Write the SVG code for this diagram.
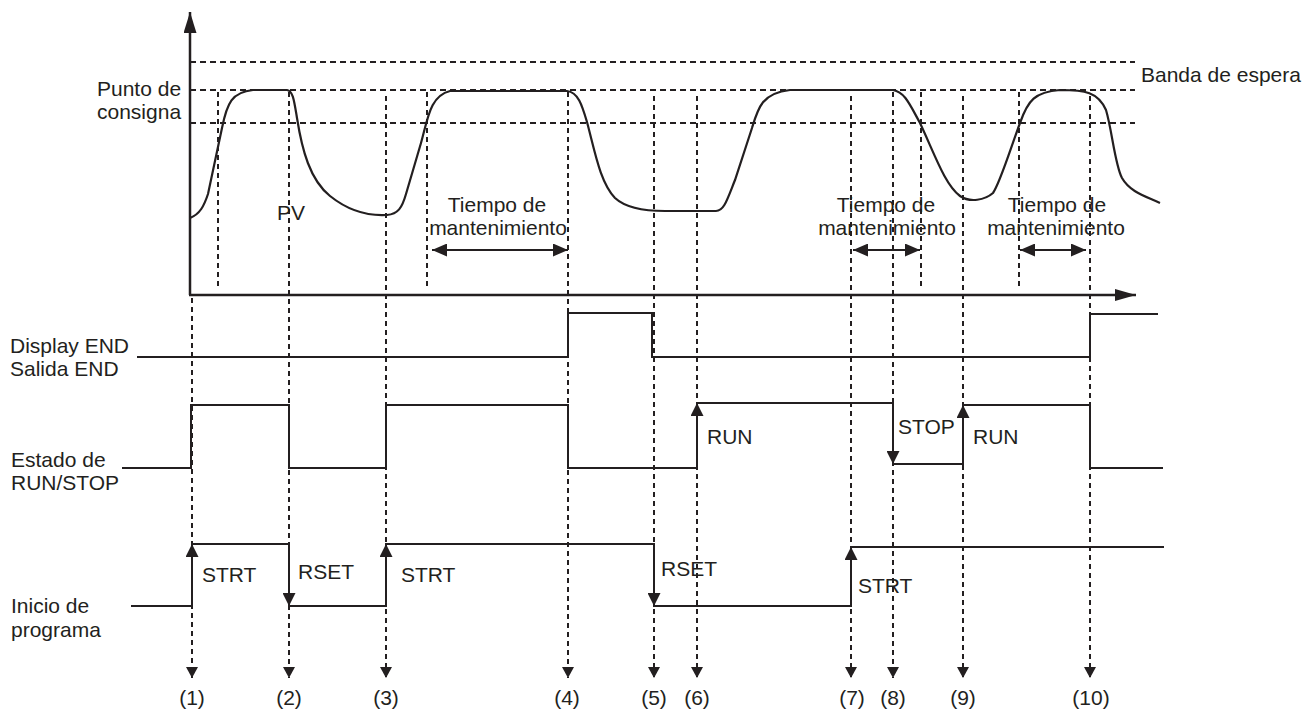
<svg xmlns="http://www.w3.org/2000/svg" width="1305" height="710" viewBox="0 0 1305 710">
<style>
text{font-family:"Liberation Sans",Arial,sans-serif;font-size:21px;fill:#231f20}
.mid{text-anchor:middle}
.ax{stroke:#231f20;stroke-width:2.5;fill:none}
.sig{stroke:#231f20;stroke-width:2;fill:none}
.hd{stroke:#231f20;stroke-width:2;stroke-dasharray:6 4;fill:none}
.vd{stroke:#231f20;stroke-width:2;stroke-dasharray:5 4;fill:none}
.pv{stroke:#231f20;stroke-width:2.2;fill:none}
</style>
<defs>
<marker id="axy" markerUnits="userSpaceOnUse" viewBox="0 0 21 13" refX="21" refY="6.5" markerWidth="21" markerHeight="13" orient="auto"><path d="M0,0 L21,6.5 L0,13 z" fill="#231f20"/></marker>
<marker id="axx" markerUnits="userSpaceOnUse" viewBox="0 0 21 12" refX="21" refY="6" markerWidth="21" markerHeight="12" orient="auto"><path d="M0,0 L21,6 L0,12 z" fill="#231f20"/></marker>
<marker id="ev" markerUnits="userSpaceOnUse" viewBox="0 0 11 12" refX="11" refY="6" markerWidth="11" markerHeight="12" orient="auto"><path d="M0,0 L11,6 L0,12 z" fill="#231f20"/></marker>
<marker id="sg" markerUnits="userSpaceOnUse" viewBox="0 0 13 13" refX="13" refY="6.5" markerWidth="13" markerHeight="13" orient="auto"><path d="M0,0 L13,6.5 L0,13 z" fill="#231f20"/></marker>
<marker id="dh" markerUnits="userSpaceOnUse" viewBox="0 0 15 13" refX="15" refY="6.5" markerWidth="15" markerHeight="13" orient="auto"><path d="M0,0 L15,6.5 L0,13 z" fill="#231f20"/></marker>
<marker id="dt" markerUnits="userSpaceOnUse" viewBox="0 0 15 13" refX="0" refY="6.5" markerWidth="15" markerHeight="13" orient="auto"><path d="M15,0 L0,6.5 L15,13 z" fill="#231f20"/></marker>
</defs>

<g id="chart">
<path class="ax" d="M190,295 V12" marker-end="url(#axy)"/>
<path class="ax" d="M189,295 H1136" marker-end="url(#axx)"/>
<path class="hd" d="M190,62 H1135 M190,90 H1135 M190,123 H1135"/>
<path class="vd" d="M218,92 V290 M427,92 V290 M921,92 V290 M1019,92 V290"/>
<path id="pv-curve" class="pv" d="M190,218 C200,214 204,206 208,194 L222,128 C227,103 232,92 253,90 L287,90 C293,91 294,100 297,118 C302,150 310,180 330,196 C350,212 370,216 387,215 C398,214 402,208 406,194 L421,143 C428,118 430,96 450,91 L567,91 C578,92 582,105 587,122 C595,152 600,182 615,198 C628,210 650,211 665,211 L716,211 C724,211 727,200 735,180 L752,128 C758,108 762,93 790,90 L893,90 C905,92 910,105 920,123 C935,155 945,185 960,196 C970,203 985,200 993,193 C1000,183 1010,150 1020,123 C1028,100 1035,92 1060,90 C1085,90 1098,92 1106,110 C1112,130 1115,165 1122,178 C1130,192 1145,196 1160,203"/>
<text x="97" y="96">Punto de</text>
<text x="97" y="119">consigna</text>
<text x="1141" y="82">Banda de espera</text>
<text x="277" y="220">PV</text>
</g>

<g id="hold-1">
<text class="mid" x="497" y="212">Tiempo de</text>
<text class="mid" x="498" y="235">mantenimiento</text>
</g>
<g id="hold-2">
<text class="mid" x="886" y="212">Tiempo de</text>
<text class="mid" x="887" y="235">mantenimiento</text>
</g>
<g id="hold-3">
<text class="mid" x="1057" y="212">Tiempo de</text>
<text class="mid" x="1056" y="235">mantenimiento</text>
</g>

<g id="display-end">
<text x="10" y="353">Display END</text>
<text x="10" y="376">Salida END</text>
<path class="sig" d="M137,357 H568 V313 H652 V357 H1090 V314 H1158"/>
</g>

<g id="run-stop">
<text x="11" y="467">Estado de</text>
<text x="11" y="490">RUN/STOP</text>
<path class="sig" d="M122,468 H191 V405 H289 V468 H386 V405 H568 V468 H697 V403 H893 V464 H963 V405 H1090 V468 H1163"/>
<text x="707" y="444">RUN</text>
<text x="898" y="434">STOP</text>
<text x="973" y="444">RUN</text>
</g>

<g id="program-start">
<text x="11" y="613">Inicio de</text>
<text x="11" y="637">programa</text>
<path class="sig" d="M131,606 H192 V544 H289 V606 H386 V544 H654 V606 H851 V547 H1164"/>
<text x="202" y="582">STRT</text>
<text x="298" y="579">RSET</text>
<text x="401" y="582">STRT</text>
<text x="661" y="576">RSET</text>
<text x="858" y="593">STRT</text>
</g>

<g id="event-labels">
<text class="mid" x="192" y="705">(1)</text>
<text class="mid" x="289" y="705">(2)</text>
<text class="mid" x="386" y="705">(3)</text>
<text class="mid" x="567" y="705">(4)</text>
<text class="mid" x="654" y="705">(5)</text>
<text class="mid" x="697" y="705">(6)</text>
<text class="mid" x="852" y="705">(7)</text>
<text class="mid" x="893" y="705">(8)</text>
<text class="mid" x="963" y="705">(9)</text>
<text class="mid" x="1091" y="705">(10)</text>
</g>

<g id="connectors">
<path class="vd" d="M192,298 V678" marker-end="url(#ev)"/>
<path class="vd" d="M289,92 V678" marker-end="url(#ev)"/>
<path class="vd" d="M386,96 V678" marker-end="url(#ev)"/>
<path class="vd" d="M568,92 V678" marker-end="url(#ev)"/>
<path class="vd" d="M654,96 V678" marker-end="url(#ev)"/>
<path class="vd" d="M697,96 V678" marker-end="url(#ev)"/>
<path class="vd" d="M851,96 V678" marker-end="url(#ev)"/>
<path class="vd" d="M893,92 V678" marker-end="url(#ev)"/>
<path class="vd" d="M963,96 V678" marker-end="url(#ev)"/>
<path class="vd" d="M1090,96 V678" marker-end="url(#ev)"/>
<path class="sig" d="M432,250 H568" marker-start="url(#dt)" marker-end="url(#dh)"/>
<path class="sig" d="M853,250 H920" marker-start="url(#dt)" marker-end="url(#dh)"/>
<path class="sig" d="M1020,250 H1086" marker-start="url(#dt)" marker-end="url(#dh)"/>
<path class="sig" d="M697,440 V403" marker-end="url(#sg)"/>
<path class="sig" d="M893,430 V464" marker-end="url(#sg)"/>
<path class="sig" d="M963,440 V405" marker-end="url(#sg)"/>
<path class="sig" d="M192,580 V544" marker-end="url(#sg)"/>
<path class="sig" d="M289,570 V606" marker-end="url(#sg)"/>
<path class="sig" d="M386,580 V544" marker-end="url(#sg)"/>
<path class="sig" d="M654,570 V606" marker-end="url(#sg)"/>
<path class="sig" d="M851,580 V547" marker-end="url(#sg)"/>
</g>
</svg>
